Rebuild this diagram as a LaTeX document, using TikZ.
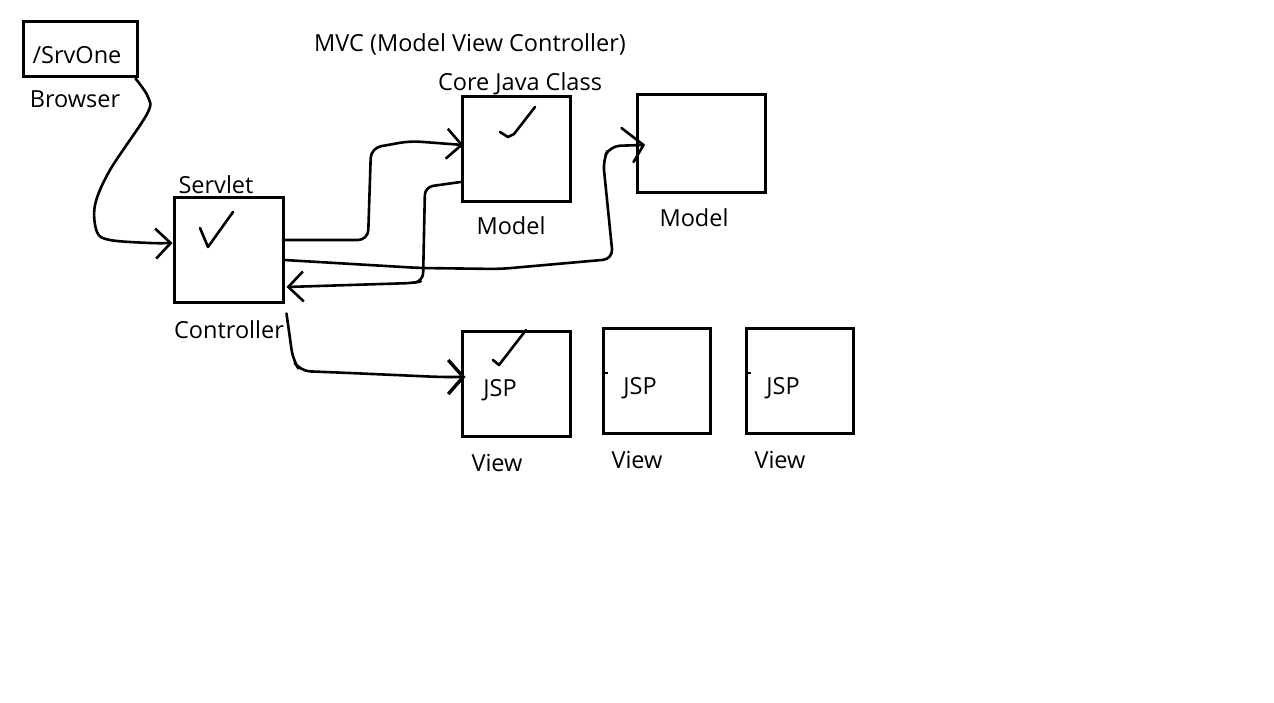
\documentclass[tikz,border=0pt]{standalone}
\usepackage{fontspec}
\setmainfont{Open Sans}
\usetikzlibrary{arrows.meta,calc}
\begin{document}
\begin{tikzpicture}[x=1pt,y=-1pt,
  box/.style={draw,line width=3pt,inner sep=0pt},
  lbl/.style={font=\fontsize{23.5}{28}\selectfont,inner sep=0pt,yshift=-2pt},
  conn/.style={line width=2.6pt,line join=round,line cap=round},
  barb/.style={-{Straight Barb[length=15pt,width=30pt,line width=2.6pt]}},
  chk/.style={line width=2.6pt,line join=round,line cap=round}]
\useasboundingbox[fill=white] (0,0) rectangle (1274,702);
% boxes
\node[box,minimum width=114pt,minimum height=55pt] (srv) at (80,48.5) {};
\node[box,minimum width=109pt,minimum height=105pt] (servlet) at (228.5,249.5) {};
\node[box,minimum width=108pt,minimum height=105pt] (core) at (516,148.5) {};
\node[box,minimum width=128pt,minimum height=98pt] (model2) at (701,143) {};
\node[box,minimum width=108pt,minimum height=105pt] (v1) at (516,383.5) {};
\node[box,minimum width=107pt,minimum height=105pt] (v2) at (656.5,380.5) {};
\node[box,minimum width=107pt,minimum height=105pt] (v3) at (799.5,380.5) {};
% texts
\node[lbl] (title) at (470,42) {MVC (Model View Controller)};
\node[lbl] (srvtxt) at (77,53) {/SrvOne};
\node[lbl] (browser) at (75,97) {Browser};
\node[lbl] (servlettxt) at (216,183) {Servlet};
\node[lbl] (controller) at (229,328) {Controller};
\node[lbl] (corejava) at (520,82) {Core Java Class};
\node[lbl] (model1) at (511,224) {Model};
\node[lbl] (model2txt) at (694,216) {Model};
\node[lbl] (jsp1) at (500,388) {JSP};
\node[lbl] (jsp2) at (640,386) {JSP};
\node[lbl] (jsp3) at (783,386) {JSP};
\node[lbl] (view1) at (497,461) {View};
\node[lbl] (view2) at (637,458) {View};
\node[lbl] (view3) at (780,458) {View};
% checks
\draw[chk] (200,228) -- (208,247) -- (233,212);
\draw[chk] (500,132) -- (508,137) -- (514,134) -- (535,107);
\draw[chk] (493,360) -- (499,365) -- (526,330);
% ticks in JSP boxes
\draw[line width=2.6pt] ([yshift=7.5pt]v2.west) -- ++(6,0);
\draw[line width=2.6pt] ([yshift=7.5pt]v3.west) -- ++(6,0);
% connector browser -> servlet
\draw[conn,barb] plot[smooth,tension=0.55] coordinates {([xshift=-3pt,yshift=-1pt]srv.south east) (148,97) (147,114) (110,170) (95,205) (97,232) (110,240) (150,243) ([yshift=6.5pt]servlet.west)};
% servlet -> core
\draw[conn,barb,rounded corners=10pt] ([yshift=9.5pt]servlet.east) -- (368,240) -- (371,148) -- (410,141) -- ([xshift=3pt,yshift=3.5pt]core.west);
% core -> servlet
\draw[conn,barb,rounded corners=8pt] ([yshift=-33.5pt]core.west) -- (425,187) -- (423,281) -- (413,283) -- ([xshift=2pt,yshift=-37.5pt]servlet.east);
% servlet -> model2
\coordinate (m2tip) at ([xshift=8pt,yshift=-2pt]model2.west);
\draw[conn,rounded corners=10pt] ([yshift=-10.5pt]servlet.east) -- (420,268) -- (500,269) -- (613,259) -- (603,160) -- (610,146) -- (m2tip);
\draw[conn] (m2tip) ++(-22,-17) -- (m2tip) -- ++(-10,17);
% servlet -> view1
\draw[conn,rounded corners=10pt,-{Straight Barb[length=15pt,width=34pt,line width=3.4pt]}] ([xshift=2pt,yshift=-10pt]servlet.south east) -- (293,360) -- (300,371) -- (350,373) -- (440,377) -- ([xshift=5pt,yshift=6.5pt]v1.west);
\end{tikzpicture}
\end{document}
